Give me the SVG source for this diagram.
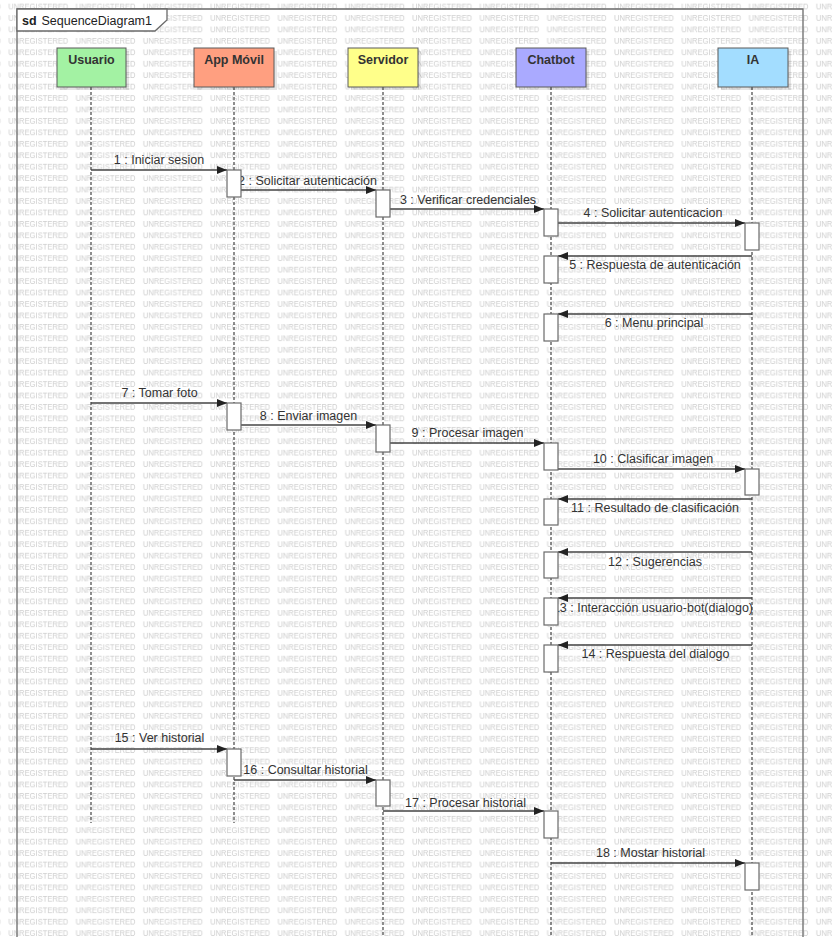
<svg xmlns="http://www.w3.org/2000/svg" width="832" height="937" viewBox="0 0 832 937">
<style>
.wm{font-family:"Liberation Sans",Arial,sans-serif;font-size:9px;fill:#cdcdcd}
.hdr{stroke:#5a5a5a;stroke-width:1}
.hdrt{font-family:"Liberation Sans",Arial,sans-serif;font-size:12.5px;font-weight:bold;fill:#333;text-anchor:middle}
.life{stroke:#444;stroke-width:1.2;stroke-dasharray:3 2;fill:none}
.msg{stroke:#444;stroke-width:1.3;fill:none;marker-end:url(#ah)}
.lbl{font-family:"Liberation Sans",Arial,sans-serif;font-size:12.5px;fill:#333;text-anchor:middle}
.act{fill:#fff;stroke:#6a6a6a;stroke-width:1.2}
.shadow{fill:#000;opacity:0.10}
</style>
<defs>
<pattern id="wmp" patternUnits="userSpaceOnUse" x="8.3" y="0.8" width="67.3" height="11.44">
<text class="wm" x="0" y="8.5" textLength="60" lengthAdjust="spacingAndGlyphs">UNREGISTERED</text>
</pattern>
<marker id="ah" markerUnits="userSpaceOnUse" markerWidth="10" markerHeight="8" refX="10" refY="4" orient="auto">
<path d="M0,0 L10,4 L0,8 z" fill="#222"/>
</marker>
</defs>
<rect x="0" y="0" width="832" height="937" fill="#fff"/>
<rect x="0" y="0" width="832" height="937" fill="url(#wmp)"/>
<g id="frame">
<path d="M17,937 L17,9 L803,9 L803,937" fill="none" stroke="#6a6a6a" stroke-width="1.3"/>
<path d="M17,9 L167,9 L167,20 L155,31 L17,31 z" fill="#fff" stroke="#6a6a6a" stroke-width="1.3"/>
<text x="22" y="24.5" font-family="Liberation Sans,Arial,sans-serif" font-size="12.5" font-weight="bold" fill="#222">sd</text>
<text x="41.5" y="24.5" font-family="Liberation Sans,Arial,sans-serif" font-size="12.5" fill="#222">SequenceDiagram1</text>
</g>
<g id="lifelines">
<line class="life" x1="91" y1="87" x2="91" y2="823"/>
<line class="life" x1="234" y1="87" x2="234" y2="823"/>
<line class="life" x1="383" y1="87" x2="383" y2="937"/>
<line class="life" x1="551" y1="87" x2="551" y2="937"/>
<line class="life" x1="752" y1="87" x2="752" y2="937"/>
</g>
<g id="n-usuario">
<rect class="shadow" x="60" y="51" width="69" height="39"/>
<rect class="hdr" x="57" y="48" width="69" height="39" fill="#a3f2a3"/>
<text class="hdrt" x="91.5" y="64">Usuario</text>
</g>
<g id="n-appmovil">
<rect class="shadow" x="197" y="51" width="80" height="39"/>
<rect class="hdr" x="194" y="48" width="80" height="39" fill="#ff9f80"/>
<text class="hdrt" x="234" y="64">App Móvil</text>
</g>
<g id="n-servidor">
<rect class="shadow" x="351" y="51" width="70" height="39"/>
<rect class="hdr" x="348" y="48" width="70" height="39" fill="#ffff8a"/>
<text class="hdrt" x="383" y="64">Servidor</text>
</g>
<g id="n-chatbot">
<rect class="shadow" x="519" y="51" width="70" height="39"/>
<rect class="hdr" x="516" y="48" width="70" height="39" fill="#aaaaff"/>
<text class="hdrt" x="551" y="64">Chatbot</text>
</g>
<g id="n-ia">
<rect class="shadow" x="721" y="51" width="70" height="39"/>
<rect class="hdr" x="718" y="48" width="70" height="39" fill="#a3ddff"/>
<text class="hdrt" x="753" y="64">IA</text>
</g>
<g id="connectors">
<path class="msg" d="M91,170 H227"/>
<text class="lbl" x="159" y="164">1 : Iniciar sesion</text>
<path class="msg" d="M241,190 H376"/>
<text class="lbl" x="307.5" y="185">2 : Solicitar autenticación</text>
<path class="msg" d="M390,209 H544"/>
<text class="lbl" x="468" y="204">3 : Verificar credenciales</text>
<path class="msg" d="M558,223 H745"/>
<text class="lbl" x="653" y="217">4 : Solicitar autenticacion</text>
<path class="msg" d="M752,256 H558"/>
<text class="lbl" x="655" y="269">5 : Respuesta de autenticación</text>
<path class="msg" d="M752,314 H558"/>
<text class="lbl" x="654" y="327">6 : Menu principal</text>
<path class="msg" d="M91,403 H227"/>
<text class="lbl" x="159.5" y="397">7 : Tomar foto</text>
<path class="msg" d="M241,425 H376"/>
<text class="lbl" x="308.5" y="420">8 : Enviar imagen</text>
<path class="msg" d="M390,443 H544"/>
<text class="lbl" x="467.5" y="437">9 : Procesar imagen</text>
<path class="msg" d="M558,469 H745"/>
<text class="lbl" x="653" y="463">10 : Clasificar imagen</text>
<path class="msg" d="M752,499 H558"/>
<text class="lbl" x="655" y="512">11 : Resultado de clasificación</text>
<path class="msg" d="M752,552 H558"/>
<text class="lbl" x="655" y="566">12 : Sugerencias</text>
<path class="msg" d="M752,598 H558"/>
<text class="lbl" x="753" y="612" style="text-anchor:end">13 : Interacción usuario-bot(dialogo)</text>
<path class="msg" d="M752,645 H558"/>
<text class="lbl" x="655.5" y="658">14 : Respuesta del dialogo</text>
<path class="msg" d="M91,749 H227"/>
<text class="lbl" x="159.5" y="742">15 : Ver historial</text>
<path class="msg" d="M234,780 H376"/>
<text class="lbl" x="305.5" y="774">16 : Consultar historial</text>
<path class="msg" d="M383,811 H544"/>
<text class="lbl" x="465.5" y="807">17 : Procesar historial</text>
<path class="msg" d="M551,863 H745"/>
<text class="lbl" x="650.5" y="857">18 : Mostar historial</text>
</g>
<g id="activations">
<rect class="act" x="227" y="170" width="14" height="27"/>
<rect class="act" x="227" y="403" width="14" height="27"/>
<rect class="act" x="227" y="749" width="14" height="27"/>
<rect class="act" x="376" y="190" width="14" height="27"/>
<rect class="act" x="376" y="425" width="14" height="27"/>
<rect class="act" x="376" y="780" width="14" height="26"/>
<rect class="act" x="544" y="209" width="14" height="27"/>
<rect class="act" x="544" y="256" width="14" height="27"/>
<rect class="act" x="544" y="314" width="14" height="27"/>
<rect class="act" x="544" y="443" width="14" height="27"/>
<rect class="act" x="544" y="499" width="14" height="26"/>
<rect class="act" x="544" y="552" width="14" height="26"/>
<rect class="act" x="544" y="598" width="14" height="27"/>
<rect class="act" x="544" y="645" width="14" height="27"/>
<rect class="act" x="544" y="811" width="14" height="27"/>
<rect class="act" x="745" y="223" width="14" height="27"/>
<rect class="act" x="745" y="469" width="14" height="26"/>
<rect class="act" x="745" y="863" width="14" height="27"/>
</g>
</svg>
